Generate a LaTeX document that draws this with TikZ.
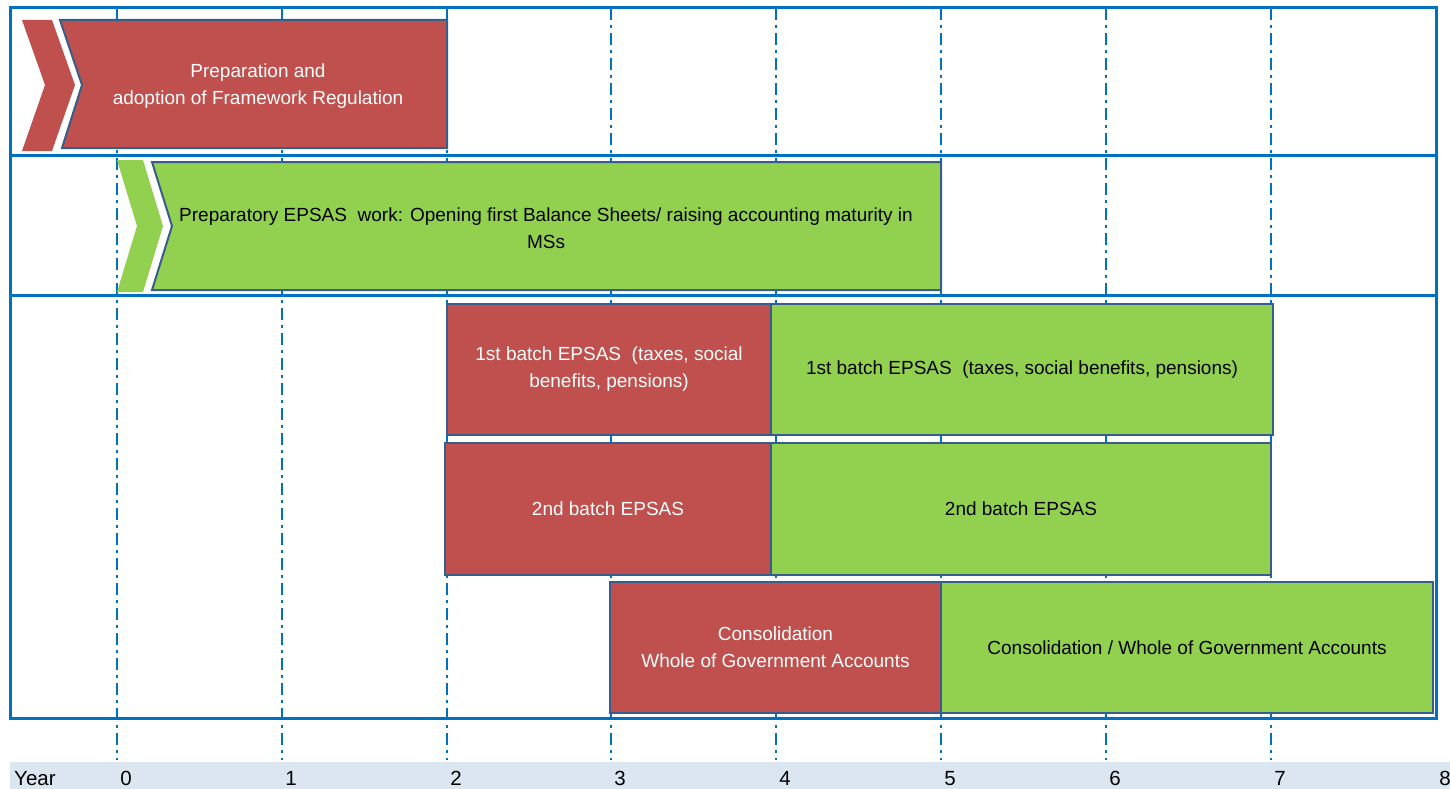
\documentclass[tikz,border=0pt]{standalone}
\usepackage{fontspec}
\setmainfont{Liberation Sans}
\definecolor{epred}{HTML}{C0504D}
\definecolor{epgreen}{HTML}{92D050}
\definecolor{epborder}{HTML}{385D8A}
\definecolor{epblue}{HTML}{0070C0}
\definecolor{epbar}{HTML}{DCE6F1}
\tikzset{
  gridline/.style={draw=epblue, line width=1.1pt, dash pattern=on 12pt off 5pt on 3pt off 5pt},
  frameline/.style={draw=epblue, line width=3pt},
  redbox/.style={draw=epborder, line width=2pt, fill=epred, text=white, align=center, inner sep=0pt},
  greenbox/.style={draw=epborder, line width=2pt, fill=epgreen, text=black, align=center, inner sep=0pt},
  redchev/.style={fill=epred},
  greenchev/.style={fill=epgreen},
  txt/.style={font=\fontsize{19}{27}\selectfont, align=center, inner sep=0pt},
  yearlbl/.style={font=\fontsize{20.5}{22}\selectfont, inner sep=0pt, anchor=base},
}
\begin{document}
\begin{tikzpicture}[x=1pt,y=-1pt]
\useasboundingbox (0,0) rectangle (1450,789);
% year bar
\fill[epbar] (10,762) rectangle (1450,789);
\node[yearlbl, anchor=base west] (yr) at (14,785) {Year};
\foreach \i/\xx in {0/117,1/282,2/447,3/611,4/776,5/941,6/1106,7/1271,8/1436}{
  \node[yearlbl] (y\i) at (\xx+9,785) {\i};
}
% grid lines
\foreach \xx in {117,282,447,611,776,941,1106,1271}{
  \draw[gridline] (\xx,8) -- (\xx,760);
}
% frame
\draw[frameline] (10,8) rectangle (1436,718);
\draw[frameline] (10,155) -- (1436,155);
\draw[frameline] (10,295) -- (1436,295);
% row 1
\fill[redchev] (22,20) -- (52,20) -- (75,85) -- (52,151) -- (22,151) -- (45,85) -- cycle;
\draw[redbox] (60,20) -- (447,20) -- (447,148) -- (62,148) -- (82,85) -- cycle;
\node[txt, text=white] (prep) at (258,86) {Preparation and\\adoption of Framework Regulation};
% row 2
\fill[greenchev] (117,160) -- (143,160) -- (163,226) -- (143,292) -- (117,292) -- (137,226) -- cycle;
\draw[greenbox] (152,162) -- (941,162) -- (941,290) -- (152,290) -- (172,226) -- cycle;
\node[txt, text=black] (pw) at (546,228) {Preparatory EPSAS\ \ work: Opening first Balance Sheets/ raising accounting maturity in\\MSs};
% row 3
\node[redbox, txt, text=white, minimum width=324pt, minimum height=131pt] (b1r) at (609,369.5) {1st batch EPSAS\ \ (taxes, social\\benefits, pensions)};
\node[greenbox, txt, minimum width=502pt, minimum height=131pt] (b1g) at (1022,369.5) {1st batch EPSAS\ \ (taxes, social benefits, pensions)};
% row 4
\node[redbox, txt, text=white, minimum width=326pt, minimum height=132pt] (b2r) at (608,509) {2nd batch EPSAS};
\node[greenbox, txt, minimum width=500pt, minimum height=132pt] (b2g) at (1021,509) {2nd batch EPSAS};
% row 5
\node[redbox, txt, text=white, minimum width=331pt, minimum height=131pt] (b3r) at (775.5,647.5) {Consolidation\\Whole of Government Accounts};
\node[greenbox, txt, minimum width=492pt, minimum height=131pt] (b3g) at (1187,647.5) {Consolidation / Whole of Government Accounts};
\end{tikzpicture}
\end{document}
